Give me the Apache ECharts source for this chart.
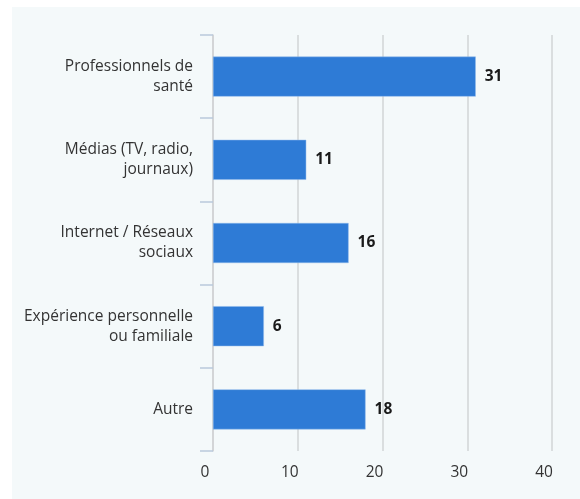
<!DOCTYPE html>
<html>
<head>
<meta charset="utf-8">
<script src="https://cdn.jsdelivr.net/npm/echarts@6/dist/echarts.min.js"></script>
<style>
  html, body { margin: 0; padding: 0; background: #ffffff; }
  #chart { width: 580px; height: 499px; }
</style>
</head>
<body>
<div id="chart"></div>
<script>
// Sources d'information citées
const categories = [
  'Professionnels de\nsanté',
  'Médias (TV, radio,\njournaux)',
  'Internet / Réseaux\nsociaux',
  'Expérience personnelle\nou familiale',
  'Autre'
];
const values = [31, 11, 16, 6, 18];
const xTicks = [0, 10, 20, 30, 40];

const chart = echarts.init(document.getElementById('chart'), null, { renderer: 'canvas' });

chart.setOption({
  backgroundColor: '#ffffff',
  textStyle: { fontFamily: 'Open Sans' },
  graphic: [{
    type: 'rect',
    left: 12, top: 7,
    shape: { width: 568, height: 492 },
    style: { fill: '#f4f9fa' },
    z: -10
  }],
  grid: { left: 213, right: 28, top: 35, bottom: 48 },
  xAxis: {
    type: 'value',
    min: xTicks[0],
    max: xTicks[xTicks.length - 1],
    interval: 10,
    axisLine: { show: false },
    axisTick: { show: false },
    splitLine: { lineStyle: { color: '#d2d4d6', width: 1.5 } },
    axisLabel: {
      color: '#333', fontSize: 15.5, margin: 14, fontFamily: 'Open Sans',
      padding: [0, 16, 0, 0]
    }
  },
  yAxis: {
    type: 'category',
    data: categories,
    inverse: true,
    axisLine: { lineStyle: { color: '#d0d2d4', width: 1.5 } },
    axisTick: { show: true, length: 13, lineStyle: { color: '#b9c9dc', width: 1.5 } },
    axisLabel: {
      color: '#333', fontSize: 15.5, margin: 20, lineHeight: 20,
      align: 'right', fontFamily: 'Open Sans'
    }
  },
  series: [{
    type: 'bar',
    data: values,
    barWidth: 40,
    itemStyle: { color: '#2e7bd6', borderColor: '#8fb8ea', borderWidth: 0.5 },
    label: {
      show: true,
      position: 'right',
      distance: 9,
      color: '#1a1a1a',
      fontWeight: 'bold',
      fontSize: 15.5,
      fontFamily: 'Open Sans'
    }
  }]
});
</script>
</body>
</html>
